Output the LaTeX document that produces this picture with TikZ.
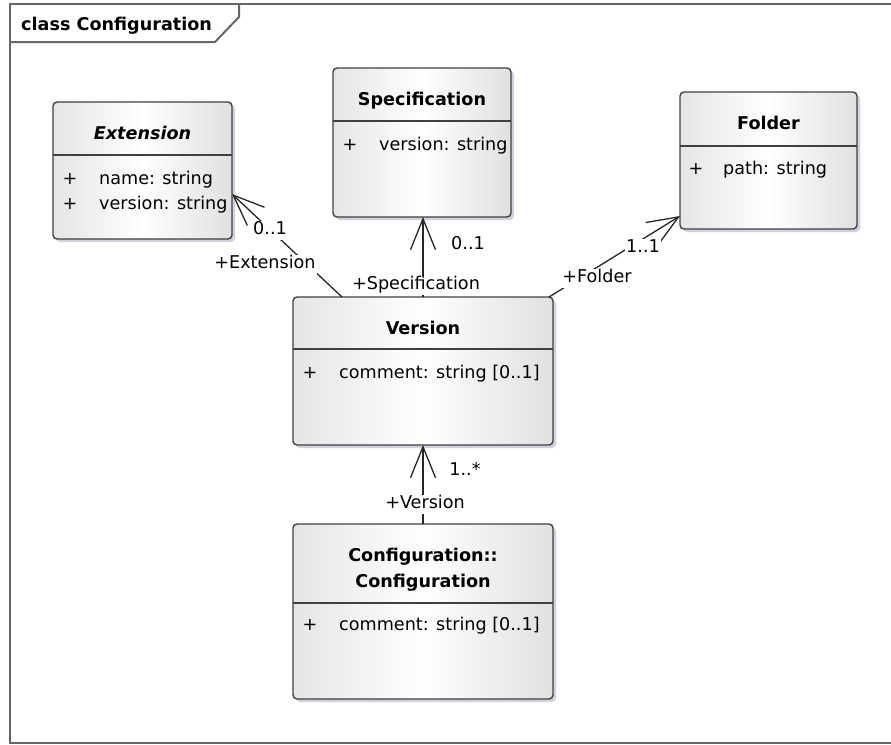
\documentclass[tikz,border=0pt]{standalone}
\usepackage{fontspec}
\setmainfont{DejaVu Sans}
\usepackage{tikz}
\usetikzlibrary{calc}
\usetikzlibrary{arrows.meta,shadows}

\begin{document}
\begin{tikzpicture}[x=1pt,y=-1pt,font=\fontsize{17.6}{22}\selectfont,
  frame/.style={draw=black!60,line width=2pt},
  cls/.style={draw=black!75,line width=1.4pt,rounded corners=4pt,anchor=north west,inner sep=0pt,outer sep=0pt,
    left color=black!10,right color=black!12,middle color=white,
    drop shadow={shadow xshift=3pt,shadow yshift=-3pt,fill=blue!20!black!30,opacity=0.6}},
  sep/.style={draw=black!75,line width=1.4pt},
  cname/.style={anchor=base,inner sep=0pt,font=\fontsize{17.6}{22}\selectfont\bfseries},
  plus/.style={anchor=base,inner sep=0pt},
  attr/.style={anchor=base west,inner sep=0pt},
  assoc/.style={draw=black!85,line width=1.3pt,-{Straight Barb[length=31pt,width=25pt]}},
  role/.style={fill=white,inner sep=1pt,text height=13pt,text depth=4pt}]
\useasboundingbox (0,0) rectangle (891,744);
\draw[frame] (891,743) -- (10,743) -- (10,4) -- (891,4);
\draw[frame] (10,42) -- (215,42) -- (239,17) -- (239,4);
\node[anchor=base west,inner sep=0pt,font=\fontsize{17.6}{22}\selectfont\bfseries] (title) at (21,30) {class Configuration};

\node[cls,minimum width=179pt,minimum height=137pt] (ext) at (53,102) {};
\draw[sep] ($(ext.north west)+(0,53)$) -- ($(ext.north east)+(0,53)$);
\node[cname] (extn) at ($(ext.north)+(0,37)$) {\itshape Extension};
\node[plus] (extp1) at ($(ext.north west)+(17,82)$) {+};
\node[attr] (exta1) at ($(ext.north west)+(46,82)$) {name: string};
\node[plus] (extp2) at ($(ext.north west)+(17,107)$) {+};
\node[attr] (exta2) at ($(ext.north west)+(46,107)$) {version: string};

\node[cls,minimum width=178pt,minimum height=149pt] (spec) at (333,68) {};
\draw[sep] ($(spec.north west)+(0,53)$) -- ($(spec.north east)+(0,53)$);
\node[cname] (specn) at ($(spec.north)+(0,37)$) {Specification};
\node[plus] (specp) at ($(spec.north west)+(17,82)$) {+};
\node[attr] (speca) at ($(spec.north west)+(46,82)$) {version: string};

\node[cls,minimum width=177pt,minimum height=137pt] (fold) at (680,92) {};
\draw[sep] ($(fold.north west)+(0,54)$) -- ($(fold.north east)+(0,54)$);
\node[cname] (foldn) at ($(fold.north)+(0,37)$) {Folder};
\node[plus] (foldp) at ($(fold.north west)+(16,82)$) {+};
\node[attr] (folda) at ($(fold.north west)+(43,82)$) {path: string};

\node[cls,minimum width=260pt,minimum height=148pt] (ver) at (293,297) {};
\draw[sep] ($(ver.north west)+(0,52)$) -- ($(ver.north east)+(0,52)$);
\node[cname] (vern) at ($(ver.north)+(0,37)$) {Version};
\node[plus] (verp) at ($(ver.north west)+(17,81)$) {+};
\node[attr] (vera) at ($(ver.north west)+(46,81)$) {comment: string [0..1]};

\node[cls,minimum width=260pt,minimum height=175pt] (conf) at (293,524) {};
\draw[sep] ($(conf.north west)+(0,79)$) -- ($(conf.north east)+(0,79)$);
\node[cname] (confn1) at ($(conf.north)+(0,37)$) {Configuration::};
\node[cname] (confn2) at ($(conf.north)+(0,63)$) {Configuration};
\node[plus] (confp) at ($(conf.north west)+(17,106)$) {+};
\node[attr] (confa) at ($(conf.north west)+(46,106)$) {comment: string [0..1]};

\draw[assoc] ($(ver.north west)+(49,0)$) -- ($(ext.north east)+(0,92)$);
\draw[assoc] (ver.north) -- (ver.north |- spec.south);
\draw[assoc] ($(ver.north east)+(-4,0)$) -- ($(fold.south west)+(0,-13)$);
\draw[assoc] (conf.north) -- (ver.south);

\node[role] (extm) at (270,230) {0..1};
\node[role] (extr) at (265,264) {+Extension};
\node[role] (specm) at (468,245) {0..1};
\node[role] (specr) at (416,285) {+Specification};
\node[role] (foldm) at (643,248) {1..1};
\node[role] (foldr) at (597,278) {+Folder};
\node[role] (verm) at (465,471) {1..*};
\node[role] (verr) at (425,504) {+Version};
\end{tikzpicture}
\end{document}
